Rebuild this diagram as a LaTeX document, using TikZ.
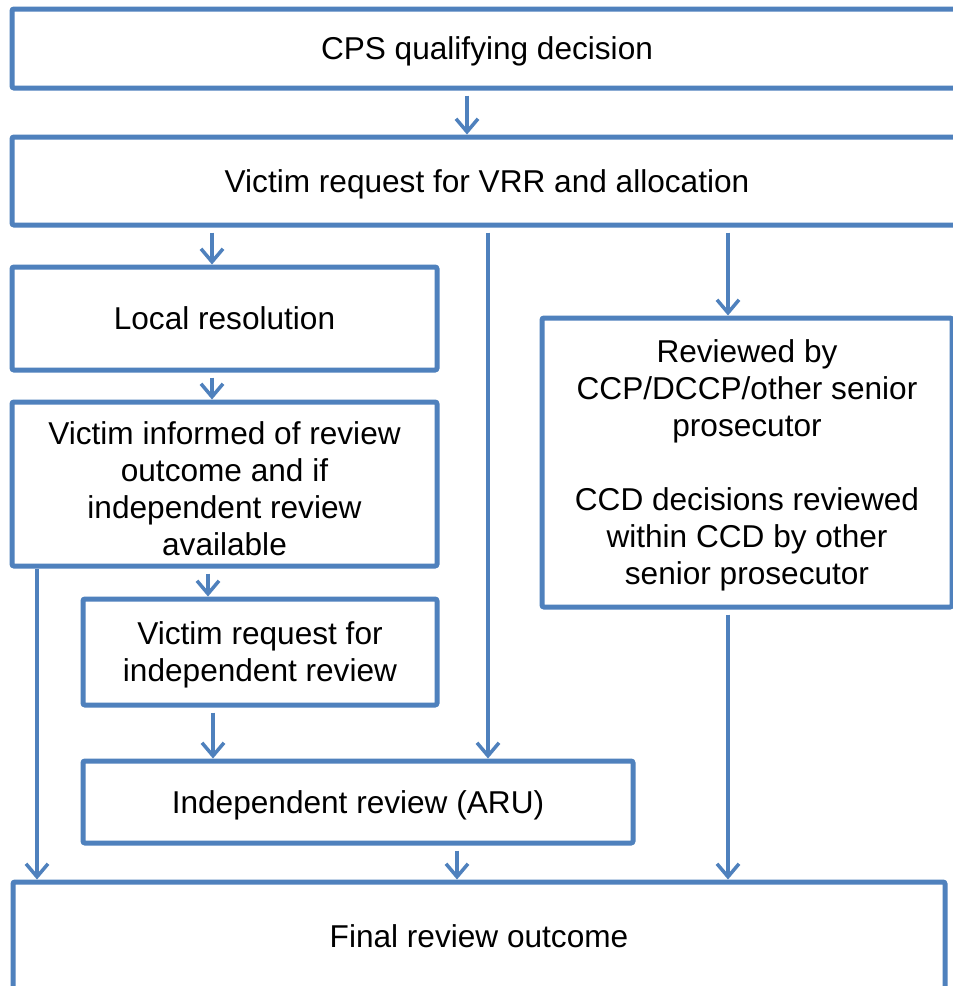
\documentclass[tikz,border=0pt]{standalone}
\usepackage{fontspec}
\setmainfont{Liberation Sans}
\usetikzlibrary{arrows.meta}
\definecolor{bl}{RGB}{79,129,189}
\begin{document}
\begin{tikzpicture}[x=1pt,y=-1pt,
  box/.style={draw=bl, line width=5pt, rounded corners=2pt, align=center, inner sep=0pt,
    font=\fontsize{31.6}{37}\selectfont, text=black, text depth=0pt},
  arr/.style={draw=bl, line width=3.5pt,
    -{Straight Barb[length=13pt,width=22pt,line width=3.5pt]}, shorten <=5pt}]
\useasboundingbox (0,0) rectangle (953,986);
\clip (0,0) rectangle (953,986);
\fill[white] (0,0) rectangle (953,986);

\node[box, minimum width=950pt, minimum height=79pt] (b1) at (487,48.5) {CPS qualifying decision};
\node[box, minimum width=950pt, minimum height=88pt] (b2) at (487,181) {Victim request for VRR and allocation};
\node[box, minimum width=425pt, minimum height=103pt] (b3) at (224.5,318.5) {Local resolution};
\node[box, minimum width=425pt, minimum height=164pt] (b4) at (224.5,484) {\rule{0pt}{31pt}Victim informed of review\\outcome and if\\independent review\\available};
\node[box, minimum width=354pt, minimum height=106pt] (b5) at (260,652) {Victim request for\\independent review};
\node[box, minimum width=550pt, minimum height=82pt] (b6) at (358,802) {Independent review (ARU)};
\node[box, minimum width=932pt, minimum height=108pt] (b7) at (479,936) {Final review outcome};
\node[box, minimum width=410pt, minimum height=289pt] (br) at (747,462.5) {Reviewed by\\CCP/DCCP/other senior\\prosecutor\\[37pt]CCD decisions reviewed\\within CCD by other\\senior prosecutor};

\coordinate (xa) at (467,0);
\coordinate (xb) at (212,0);
\coordinate (xc) at (488,0);
\coordinate (xd) at (728,0);
\coordinate (xe) at (208,0);
\coordinate (xf) at (213,0);
\coordinate (xg) at (457,0);
\coordinate (xh) at (37,0);

\draw[arr] (b1.south -| xa) -- (b2.north -| xa);
\draw[arr] (b2.south -| xb) -- (b3.north -| xb);
\draw[arr] (b2.south -| xc) -- (b6.north -| xc);
\draw[arr] (b2.south -| xd) -- (br.north -| xd);
\draw[arr] (b3.south -| xb) -- (b4.north -| xb);
\draw[arr] (b4.south -| xe) -- (b5.north -| xe);
\draw[arr] (b5.south -| xf) -- (b6.north -| xf);
\draw[arr] (b6.south -| xg) -- (b7.north -| xg);
\draw[arr, shorten <=0pt] (b4.south -| xh) -- (b7.north -| xh);
\draw[arr] (br.south -| xd) -- (b7.north -| xd);
\end{tikzpicture}
\end{document}
